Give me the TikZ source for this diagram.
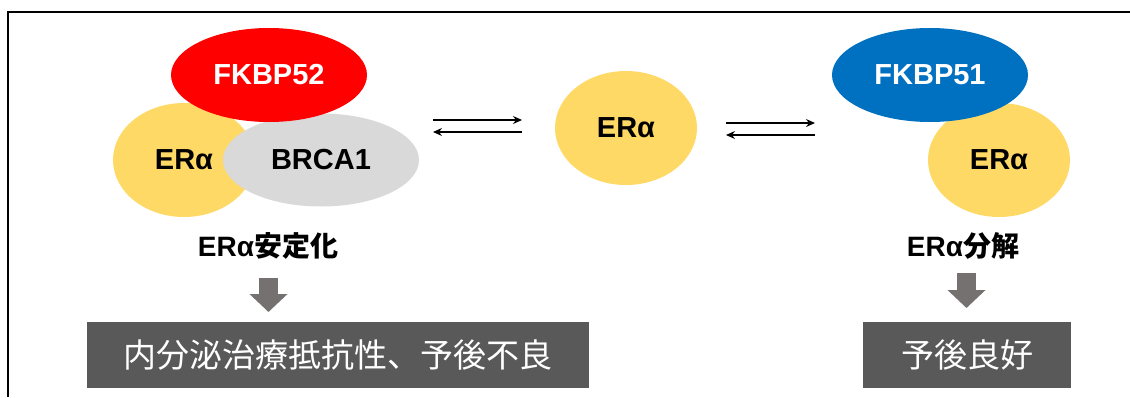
\documentclass[tikz,border=0pt]{standalone}
\usepackage{fontspec}
\setmainfont{Liberation Sans}
\newfontfamily\cjk{Noto Sans CJK JP}
\usetikzlibrary{shapes.geometric,arrows.meta}
\definecolor{fkred}{HTML}{FF0000}
\definecolor{fkblue}{HTML}{0070C0}
\definecolor{eryellow}{HTML}{FFD966}
\definecolor{brgrey}{HTML}{D9D9D9}
\definecolor{arrgrey}{HTML}{767171}
\definecolor{boxgrey}{HTML}{595959}
\tikzset{
  blob/.style={ellipse, inner sep=0pt, font=\fontsize{29}{31}\selectfont\bfseries},
  erblob/.style={blob, fill=eryellow, minimum width=142pt, minimum height=114pt},
  fkblob/.style={blob, text=white, minimum width=196pt, minimum height=94pt},
  eqarrow/.style={line width=1.3pt, -{Stealth[length=9pt,width=8pt,inset=3pt]}},
  blockarrow/.style={draw=arrgrey, line width=19pt, -{Triangle[length=18pt,width=37pt]}},
  outcome/.style={fill=boxgrey, text=white, inner sep=0pt, minimum height=66pt,
    font=\cjk\fontsize{33}{35}\selectfont},
  effect/.style={inner sep=0pt, font=\fontsize{28}{30}\selectfont\bfseries}
}
\begin{document}
\begin{tikzpicture}[x=1pt,y=-1pt]
\useasboundingbox (0,0) rectangle (1130,397);
\draw[line width=1.5pt] (8,397) -- (8,12) -- (1131,12);
% left complex
\node[erblob] (erL) at (184,160) {ERα};
\node[blob, fill=brgrey, minimum width=196pt, minimum height=93pt] (brca) at (321,160) {BRCA1};
\node[fkblob, fill=fkred] (fk52) at (269,75) {FKBP52};
% centre
\node[erblob] (erC) at (626,128) {ERα};
% right complex
\node[erblob] (erR) at (999,160) {ERα};
\node[fkblob, fill=fkblue] (fk51) at (930,75) {FKBP51};
% equilibrium arrows
\coordinate (l1) at (433,120); \coordinate (r1) at (522,120);
\coordinate (l2) at (433,132); \coordinate (r2) at (522,132);
\coordinate (l3) at (726,123); \coordinate (r3) at (815,123);
\coordinate (l4) at (726,135); \coordinate (r4) at (815,135);
\draw[eqarrow] (l1) -- (r1);
\draw[eqarrow] (r2) -- (l2);
\draw[eqarrow] (l3) -- (r3);
\draw[eqarrow] (r4) -- (l4);
% effects
\node[effect] (stab) at (268,246) {ERα{\cjk 安定化}};
\node[effect] (degr) at (963,246) {ERα{\cjk 分解}};
% outcome boxes
\node[outcome, minimum width=502pt] (bad) at (338,355) {内分泌治療抵抗性、予後不良};
\node[outcome, minimum width=208pt] (good) at (967,355) {予後良好};
% block arrows
\coordinate (a1s) at (268.5,278); \coordinate (a1e) at (268.5,312);
\coordinate (a2s) at (966.5,273); \coordinate (a2e) at (966.5,308);
\draw[blockarrow] (a1s) -- (a1e);
\draw[blockarrow] (a2s) -- (a2e);
\end{tikzpicture}
\end{document}
